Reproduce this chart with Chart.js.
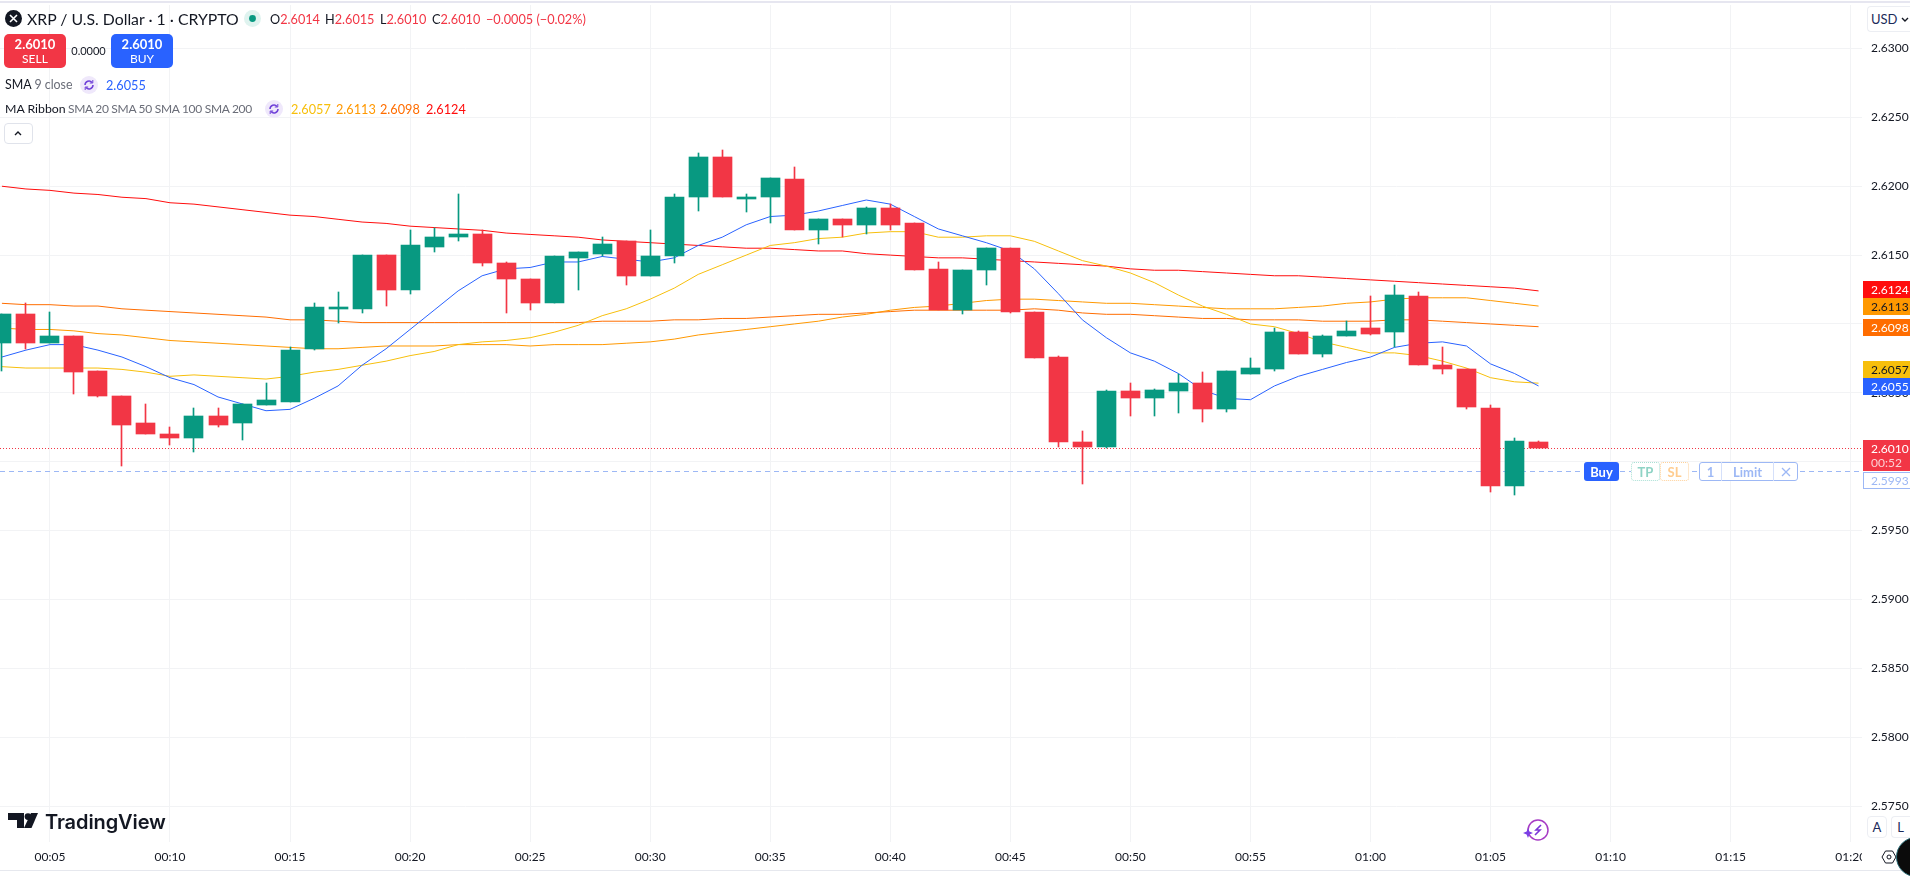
<!DOCTYPE html>
<html>
<head>
<meta charset="utf-8">
<title>XRP / U.S. Dollar</title>
<script src="https://cdn.jsdelivr.net/npm/chart.js@4/dist/chart.umd.min.js"></script>
<style>
html, body { margin: 0; padding: 0; background: #fff; overflow: hidden; width: 1910px; height: 878px; }
body { font-family: 'Lato', sans-serif; color: #131722; position: relative; }
#wrap { position: absolute; left: 0; top: 0; width: 1910px; height: 878px; }
.t { position: absolute; white-space: nowrap; line-height: 16px; height: 16px; font-size: 13px; }
.red { color: #f23645; }
.gray { color: #6a6d78; }
.box { position: absolute; box-sizing: border-box; }
svg { position: absolute; overflow: visible; }
</style>
</head>
<body>
<div id="wrap"><canvas id="mainChart" width="1910" height="878"></canvas></div>

<div class="box" style="left:0;top:1px;width:1910px;height:2px;background:#e6e6f0"></div>
<div class="box" style="left:0;top:870px;width:1910px;height:1px;background:#e6e8ee"></div>

<!-- legenda -->
<svg style="left:5px;top:10px" width="17" height="17"><circle cx="8.5" cy="8.5" r="8.5" fill="#131722"/><path d="M5 5l7 7M12 5l-7 7" stroke="#fff" stroke-width="1.6"/></svg>
<span class="t" style="left:27px;top:11px;font-size:15.8px">XRP / U.S. Dollar · 1 · CRYPTO</span>
<svg style="left:244px;top:10px" width="17" height="17"><circle cx="8.5" cy="8.5" r="8.5" fill="#dff3ef"/><circle cx="8.5" cy="8.5" r="3.4" fill="#089981"/></svg>
<span class="t" style="left:270px;top:11px;font-size:12.7px">O<span class="red">2.6014</span></span>
<span class="t" style="left:325px;top:11px;font-size:12.7px">H<span class="red">2.6015</span></span>
<span class="t" style="left:380px;top:11px;font-size:12.7px">L<span class="red">2.6010</span></span>
<span class="t" style="left:432px;top:11px;font-size:12.7px">C<span class="red">2.6010</span></span>
<span class="t red" style="left:486px;top:11px;font-size:12.7px">−0.0005 (−0.02%)</span>

<div class="box" style="left:4px;top:34px;width:62px;height:34px;background:#f23645;border-radius:5px"></div>
<span class="t" style="left:4px;width:62px;text-align:center;top:36px;color:#fff;font-weight:700">2.6010</span>
<span class="t" style="left:4px;width:62px;text-align:center;top:51px;color:#fff;font-size:12px">SELL</span>
<span class="t" style="left:66px;width:45px;text-align:center;top:43px;font-size:11px">0.0000</span>
<div class="box" style="left:111px;top:34px;width:62px;height:34px;background:#2962ff;border-radius:5px"></div>
<span class="t" style="left:111px;width:62px;text-align:center;top:36px;color:#fff;font-weight:700">2.6010</span>
<span class="t" style="left:111px;width:62px;text-align:center;top:51px;color:#fff;font-size:12px">BUY</span>

<span class="t" style="left:5px;top:77px;font-size:12.4px">SMA <span class="gray">9 close</span></span>
<svg style="left:80px;top:76px" width="18" height="18"><circle cx="9" cy="9" r="9" fill="#efe8fb"/><path d="M5 9a4 4 0 0 1 7-2.6M13 9a4 4 0 0 1-7 2.6" fill="none" stroke="#6e3fd8" stroke-width="1.5"/><path d="M12.8 4v3h-3M5.2 14v-3h3" fill="none" stroke="#6e3fd8" stroke-width="1"/></svg>
<span class="t" style="left:106px;top:77px;color:#2962ff;font-size:12.7px">2.6055</span>

<span class="t" style="left:5px;top:101px;font-size:12.3px">MA Ribbon</span>
<span class="t gray" style="left:68px;top:101px;font-size:12px;letter-spacing:-0.3px">SMA 20 SMA 50 SMA 100 SMA 200</span>
<svg style="left:265px;top:100px" width="18" height="18"><circle cx="9" cy="9" r="9" fill="#efe8fb"/><path d="M5 9a4 4 0 0 1 7-2.6M13 9a4 4 0 0 1-7 2.6" fill="none" stroke="#6e3fd8" stroke-width="1.5"/><path d="M12.8 4v3h-3M5.2 14v-3h3" fill="none" stroke="#6e3fd8" stroke-width="1"/></svg>
<span class="t" style="left:291px;top:101px;color:#f7bf0c;font-size:12.7px">2.6057</span>
<span class="t" style="left:336px;top:101px;color:#ff9800;font-size:12.7px">2.6113</span>
<span class="t" style="left:380px;top:101px;color:#ff6d00;font-size:12.7px">2.6098</span>
<span class="t" style="left:426px;top:101px;color:#ff0d0d;font-size:12.7px">2.6124</span>

<div class="box" style="left:4px;top:123px;width:29px;height:21px;border:1px solid #e0e3eb;border-radius:4px;background:#fff"></div>
<svg style="left:14px;top:130px" width="8" height="6"><path d="M1 5l3-3 3 3" fill="none" stroke="#131722" stroke-width="1.4"/></svg>

<!-- moeda -->
<div class="box" style="left:1867px;top:6px;width:43px;height:26px;border:1px solid #eceef3;border-right:none;border-radius:4px 0 0 4px;background:#fff"></div>
<span class="t" style="left:1871px;top:11px;color:#1c2b5a">USD</span>
<svg style="left:1901px;top:17px" width="8" height="6"><path d="M1 1l3 3 3-3" fill="none" stroke="#131722" stroke-width="1.4"/></svg>

<!-- ordem -->
<div class="box" style="left:1584px;top:462px;width:35px;height:19px;background:#2962ff;border-radius:3px"></div>
<span class="t" style="left:1584px;width:35px;text-align:center;top:464px;color:#fff;font-weight:700">Buy</span>
<div class="box" style="left:1631px;top:462px;width:29px;height:19px;background:#fff;border:1px dotted #a9e0d4;border-radius:3px"></div>
<span class="t" style="left:1631px;width:29px;text-align:center;top:464px;color:#8fd3c5;font-weight:700">TP</span>
<div class="box" style="left:1660px;top:462px;width:29px;height:19px;background:#fff;border:1px dotted #ffd199;border-radius:3px"></div>
<span class="t" style="left:1660px;width:29px;text-align:center;top:464px;color:#ffcc8f;font-weight:700">SL</span>
<div class="box" style="left:1699px;top:462px;width:99px;height:19px;background:#fff;border:1px solid #9db8f5;border-radius:3px"></div>
<div class="box" style="left:1721px;top:462px;width:1px;height:19px;background:#d5e0fa"></div>
<div class="box" style="left:1773px;top:462px;width:1px;height:19px;background:#d5e0fa"></div>
<span class="t" style="left:1699px;width:23px;text-align:center;top:464px;color:#9db8f5;font-weight:700">1</span>
<span class="t" style="left:1722px;width:51px;text-align:center;top:464px;color:#9db8f5;font-weight:700">Limit</span>
<svg style="left:1781px;top:467px" width="10" height="10"><path d="M1 1l8 8M9 1l-8 8" stroke="#9db8f5" stroke-width="1.3"/></svg>

<!-- logo -->
<svg style="left:8px;top:813px" width="30" height="15"><path d="M0 0h16v15h-7v-8h-9z" fill="#131722"/><circle cx="20" cy="3.6" r="3.4" fill="#131722"/><path d="M23 0h7l-6.5 15h-7.5z" fill="#131722"/></svg>
<span class="t" style="left:45px;top:810px;height:24px;line-height:24px;font-family:Inter;font-weight:600;font-size:20px;letter-spacing:-0.1px">TradingView</span>

<!-- icone raio -->
<svg style="left:1523px;top:818px" width="26" height="24"><circle cx="15" cy="12" r="10" fill="none" stroke="#a63bc4" stroke-width="1.5"/><path d="M18 7l-5 5h4l-5 5" fill="none" stroke="#7b35d8" stroke-width="1.6"/><path d="M5 10l1.4 3.6L10 15l-3.6 1.4L5 20l-1.4-3.6L0 15l3.6-1.4z" fill="#7b3fe4"/></svg>

<!-- canto -->
<div class="box" style="left:1862px;top:842px;width:48px;height:28px;background:#fff"></div>
<div class="box" style="left:1867px;top:816px;width:20px;height:22px;border:1px solid #eceef3;border-radius:4px;background:#fff"></div>
<span class="t" style="left:1867px;width:20px;text-align:center;top:819px;color:#1c2b5a">A</span>
<div class="box" style="left:1891px;top:816px;width:19px;height:22px;border:1px solid #eceef3;border-right:none;border-radius:4px 0 0 4px;background:#fff"></div>
<span class="t" style="left:1891px;width:19px;text-align:center;top:819px;color:#1c2b5a">L</span>
<svg style="left:1882px;top:850px" width="14" height="14"><path d="M3.5 1h7l3.5 6-3.5 6h-7L0 7z" fill="none" stroke="#131722" stroke-width="1"/><circle cx="7" cy="7" r="2" fill="none" stroke="#131722"/></svg>
<svg style="left:1896px;top:837px" width="40" height="40"><circle cx="20" cy="20" r="19.5" fill="#0b0b0b" stroke="#2c6e78" stroke-width="1"/></svg>

<script>
// Candles, um por minuto
const minutes = [3,4,5,6,7,8,9,10,11,12,13,14,15,16,17,18,19,20,21,22,23,24,25,26,27,28,29,30,31,32,33,34,35,36,37,38,39,40,41,42,43,44,45,46,47,48,49,50,51,52,53,54,55,56,57,58,59,60,61,62,63,64,65,66,67];
const opens = [2.6086,2.6107,2.6086,2.6091,2.6066,2.6048,2.6028,2.6020,2.6017,2.6033,2.6028,2.6041,2.6043,2.6082,2.6111,2.6111,2.6150,2.6125,2.6156,2.6163,2.6165,2.6144,2.6133,2.6115,2.6148,2.6151,2.6160,2.6135,2.6149,2.6192,2.6221,2.6191,2.6192,2.6205,2.6168,2.6176,2.6172,2.6184,2.6173,2.6140,2.6110,2.6139,2.6155,2.6109,2.6076,2.6014,2.6011,2.6051,2.6046,2.6051,2.6057,2.6038,2.6064,2.6067,2.6094,2.6078,2.6091,2.6097,2.6094,2.6120,2.6070,2.6067,2.6039,2.5982,2.6014];
const closes = [2.6107,2.6086,2.6091,2.6065,2.6048,2.6027,2.6020,2.6017,2.6033,2.6027,2.6042,2.6045,2.6081,2.6112,2.6112,2.6150,2.6125,2.6157,2.6163,2.6165,2.6144,2.6133,2.6115,2.6149,2.6152,2.6158,2.6135,2.6149,2.6192,2.6221,2.6192,2.6192,2.6206,2.6168,2.6176,2.6172,2.6184,2.6172,2.6139,2.6110,2.6139,2.6155,2.6109,2.6075,2.6014,2.6011,2.6051,2.6046,2.6052,2.6057,2.6038,2.6066,2.6068,2.6094,2.6078,2.6091,2.6095,2.6093,2.6121,2.6070,2.6067,2.6040,2.5982,2.6015,2.6010];
const highs = [2.6107,2.6115,2.6109,2.6091,2.6066,2.6048,2.6042,2.6025,2.6039,2.6039,2.6042,2.6057,2.6083,2.6115,2.6123,2.6150,2.6150,2.6168,2.6170,2.6194,2.6168,2.6145,2.6133,2.6149,2.6152,2.6163,2.6160,2.6168,2.6194,2.6224,2.6226,2.6194,2.6206,2.6214,2.6176,2.6176,2.6185,2.6187,2.6173,2.6145,2.6139,2.6155,2.6155,2.6109,2.6077,2.6022,2.6052,2.6057,2.6053,2.6064,2.6065,2.6066,2.6075,2.6097,2.6095,2.6092,2.6102,2.6120,2.6128,2.6123,2.6083,2.6067,2.6041,2.6017,2.6015];
const lows = [2.6066,2.6082,2.6086,2.6049,2.6047,2.5997,2.6020,2.6012,2.6007,2.6025,2.6016,2.6041,2.6043,2.6081,2.6101,2.6108,2.6113,2.6122,2.6152,2.6160,2.6142,2.6108,2.6110,2.6115,2.6125,2.6149,2.6128,2.6135,2.6144,2.6182,2.6192,2.6181,2.6173,2.6168,2.6158,2.6163,2.6165,2.6168,2.6139,2.6110,2.6107,2.6128,2.6108,2.6075,2.6011,2.5984,2.6010,2.6033,2.6033,2.6035,2.6029,2.6036,2.6064,2.6066,2.6078,2.6076,2.6091,2.6092,2.6083,2.6070,2.6064,2.6038,2.5978,2.5976,2.6010];

// Medias moveis
const sma9 = [2.6076,2.6081,2.6085,2.6085,2.6081,2.6076,2.6069,2.6061,2.6056,2.6047,2.6042,2.6037,2.6038,2.6046,2.6055,2.6070,2.6082,2.6096,2.6110,2.6124,2.6135,2.6140,2.6141,2.6145,2.6145,2.6149,2.6147,2.6145,2.6148,2.6157,2.6163,2.6172,2.6178,2.6179,2.6182,2.6186,2.6190,2.6187,2.6178,2.6169,2.6164,2.6159,2.6153,2.6140,2.6122,2.6103,2.6090,2.6079,2.6073,2.6064,2.6052,2.6046,2.6045,2.6055,2.6062,2.6067,2.6072,2.6076,2.6083,2.6086,2.6087,2.6084,2.6071,2.6064,2.6055];
const sma20 = [2.6069,2.6068,2.6068,2.6068,2.6068,2.6067,2.6065,2.6062,2.6063,2.6062,2.6061,2.6060,2.6062,2.6065,2.6067,2.6070,2.6073,2.6077,2.6080,2.6085,2.6087,2.6088,2.6090,2.6094,2.6099,2.6106,2.6111,2.6118,2.6126,2.6136,2.6143,2.6150,2.6157,2.6159,2.6162,2.6163,2.6166,2.6167,2.6167,2.6163,2.6163,2.6164,2.6164,2.6160,2.6153,2.6146,2.6142,2.6137,2.6130,2.6121,2.6113,2.6107,2.6100,2.6098,2.6093,2.6087,2.6083,2.6079,2.6079,2.6077,2.6073,2.6068,2.6061,2.6058,2.6057];
const sma50 = [2.6097,2.6096,2.6096,2.6095,2.6093,2.6092,2.6090,2.6088,2.6087,2.6086,2.6085,2.6084,2.6083,2.6082,2.6082,2.6083,2.6084,2.6084,2.6084,2.6085,2.6085,2.6085,2.6084,2.6085,2.6085,2.6085,2.6086,2.6087,2.6089,2.6092,2.6094,2.6096,2.6098,2.6100,2.6102,2.6105,2.6107,2.6110,2.6112,2.6113,2.6115,2.6117,2.6118,2.6118,2.6117,2.6116,2.6115,2.6115,2.6114,2.6113,2.6112,2.6111,2.6111,2.6111,2.6112,2.6113,2.6115,2.6116,2.6118,2.6119,2.6119,2.6119,2.6117,2.6115,2.6113];
const sma100 = [2.6115,2.6114,2.6114,2.6113,2.6113,2.6111,2.6110,2.6109,2.6108,2.6107,2.6106,2.6105,2.6103,2.6103,2.6102,2.6101,2.6101,2.6101,2.6101,2.6101,2.6101,2.6101,2.6101,2.6101,2.6101,2.6102,2.6102,2.6102,2.6103,2.6103,2.6104,2.6104,2.6105,2.6106,2.6107,2.6107,2.6108,2.6109,2.6110,2.6110,2.6110,2.6110,2.6110,2.6111,2.6110,2.6108,2.6107,2.6107,2.6106,2.6105,2.6104,2.6104,2.6103,2.6103,2.6103,2.6102,2.6102,2.6102,2.6103,2.6103,2.6102,2.6101,2.6100,2.6099,2.6098];
const sma200 = [2.6200,2.6198,2.6197,2.6195,2.6194,2.6192,2.6191,2.6188,2.6187,2.6185,2.6183,2.6181,2.6179,2.6178,2.6176,2.6174,2.6173,2.6171,2.6170,2.6169,2.6168,2.6166,2.6165,2.6164,2.6163,2.6161,2.6160,2.6159,2.6158,2.6157,2.6156,2.6155,2.6155,2.6154,2.6153,2.6153,2.6151,2.6150,2.6149,2.6148,2.6148,2.6147,2.6146,2.6145,2.6144,2.6143,2.6142,2.6140,2.6139,2.6139,2.6138,2.6137,2.6136,2.6135,2.6135,2.6134,2.6133,2.6132,2.6131,2.6130,2.6129,2.6128,2.6127,2.6126,2.6124];

// Eixos e etiquetas
const timeTicks = [5,10,15,20,25,30,35,40,45,50,55,60,65,70,75,80];
const timeLabels = ['00:05','00:10','00:15','00:20','00:25','00:30','00:35','00:40','00:45','00:50','00:55','01:00','01:05','01:10','01:15','01:20'];
const priceTicks = [2.575,2.58,2.585,2.59,2.595,2.6,2.605,2.61,2.615,2.62,2.625,2.63];
const tagValues = [2.6124,2.6113,2.6098,2.6057,2.6055];
const tagFills = ['#ff0d0d','#ff9800','#ff6d00','#f7bf0c','#2962ff'];
const tagTexts = ['#ffffff','#131722','#ffffff','#131722','#ffffff'];
const lastPrice = 2.6010;
const countdown = '00:52';
const orderPrice = 2.5993;

const viewStart = 2.92004;
const viewEnd = 80.471;
const UP = '#089981';
const DOWN = '#f23645';
const FONT = 'Lato, sans-serif';

const candleColors = closes.map((c, i) => c >= opens[i] ? UP : DOWN);

function maLine(values, color) {
    return {
        type: 'line',
        data: values.map((v, i) => ({ x: minutes[i], y: v })),
        borderColor: color,
        borderWidth: 1,
        pointRadius: 0,
        tension: 0,
        order: 3
    };
}

function levelLine(value, color, dash) {
    return {
        type: 'line',
        level: true,
        data: [{ x: viewStart, y: value }, { x: viewEnd, y: value }],
        borderColor: color,
        borderWidth: 1,
        borderDash: dash,
        pointRadius: 0,
        order: 4
    };
}

// Alinha velas e niveis ao pixel, como o grafico original
const snapPlugin = {
    id: 'snap',
    afterDatasetsUpdate(chart) {
        chart.data.datasets.forEach((ds, i) => {
            const meta = chart.getDatasetMeta(i);
            if (ds.type === 'bar') {
                meta.data.forEach(el => {
                    el.x = Math.floor(el.x) + 0.5;
                    el.y = Math.round(el.y);
                    el.base = Math.round(el.base);
                });
            } else if (ds.level) {
                meta.data.forEach(el => { el.y = Math.round(el.y) + 0.5; });
            }
        });
    }
};

// Etiquetas de preco na escala da direita
const priceTagPlugin = {
    id: 'priceTags',
    afterDraw(chart) {
        const ctx = chart.ctx;
        const y = chart.scales.y;
        const left = 1863;
        const w = 47;
        const h = 17;
        ctx.save();
        ctx.font = '12px ' + FONT;
        ctx.textBaseline = 'middle';
        ctx.textAlign = 'left';

        let prevTop = Infinity;
        for (let i = tagValues.length - 1; i >= 0; i--) {
            let top = Math.round(y.getPixelForValue(tagValues[i]) - 8);
            if (top + h > prevTop) top = prevTop - h;
            prevTop = top;
            ctx.fillStyle = tagFills[i];
            ctx.fillRect(left, top, w, h);
            ctx.fillStyle = tagTexts[i];
            ctx.fillText(tagValues[i].toFixed(4), 1871, top + 9);
        }

        const top = Math.round(y.getPixelForValue(lastPrice) - 8);
        ctx.fillStyle = DOWN;
        ctx.fillRect(left, top, w, 31);
        ctx.fillStyle = '#ffffff';
        ctx.fillText(lastPrice.toFixed(4), 1871, top + 9);
        ctx.fillStyle = '#fbd0d4';
        ctx.fillText(countdown, 1871, top + 23);

        const oTop = top + 32;
        ctx.fillStyle = '#ffffff';
        ctx.fillRect(left, oTop, w, h);
        ctx.strokeStyle = '#9db8f5';
        ctx.lineWidth = 1;
        ctx.strokeRect(left + 0.5, oTop + 0.5, w, h - 1);
        ctx.fillStyle = '#9db8f5';
        ctx.fillText(orderPrice.toFixed(4), 1871, oTop + 9);
        ctx.restore();
    }
};

Chart.defaults.font.family = FONT;
Chart.defaults.font.size = 12;
Chart.defaults.color = '#131722';

new Chart(document.getElementById('mainChart').getContext('2d'), {
    type: 'bar',
    data: {
        datasets: [
            {
                data: minutes.map((m, i) => ({ x: m, y: [opens[i], closes[i]] })),
                backgroundColor: candleColors,
                barThickness: 19,
                grouped: false,
                type: 'bar',
                order: 1
            },
            {
                data: minutes.map((m, i) => ({ x: m, y: [lows[i], highs[i]] })),
                backgroundColor: candleColors,
                barThickness: 1,
                grouped: false,
                type: 'bar',
                order: 2
            },
            maLine(sma9, '#2962ff'),
            maLine(sma20, '#f7bf0c'),
            maLine(sma50, '#ff9800'),
            maLine(sma100, '#ff6d00'),
            maLine(sma200, '#ff0d0d'),
            levelLine(lastPrice, DOWN, [1, 2]),
            levelLine(orderPrice, '#9db8f5', [5, 4])
        ]
    },
    options: {
        responsive: false,
        animation: false,
        events: [],
        layout: { padding: { top: 5, left: 0, right: 0, bottom: 0 } },
        plugins: { legend: { display: false }, tooltip: { enabled: false } },
        scales: {
            x: {
                type: 'linear',
                min: viewStart,
                max: viewEnd,
                offset: false,
                afterBuildTicks: scale => { scale.ticks = timeTicks.map(v => ({ value: v })); },
                afterFit: scale => {
                    scale.height = 36;
                    scale.paddingLeft = 0;
                    scale.paddingRight = 0;
                },
                grid: { color: '#f2f3f5', drawTicks: false, offset: false },
                border: { display: false },
                ticks: {
                    autoSkip: false,
                    maxRotation: 0,
                    padding: 8,
                    color: '#131722',
                    callback: v => timeLabels[timeTicks.indexOf(v)]
                }
            },
            y: {
                type: 'linear',
                position: 'right',
                min: 2.572388,
                max: 2.633158,
                afterBuildTicks: scale => { scale.ticks = priceTicks.map(v => ({ value: v })); },
                afterFit: scale => {
                    scale.width = 48;
                    scale.paddingTop = 0;
                    scale.paddingBottom = 0;
                },
                grid: { color: '#f2f3f5', drawTicks: false },
                border: { display: false },
                ticks: {
                    padding: 9,
                    color: '#131722',
                    callback: v => v.toFixed(4)
                }
            }
        }
    },
    plugins: [snapPlugin, priceTagPlugin]
});
</script>
</body>
</html>
